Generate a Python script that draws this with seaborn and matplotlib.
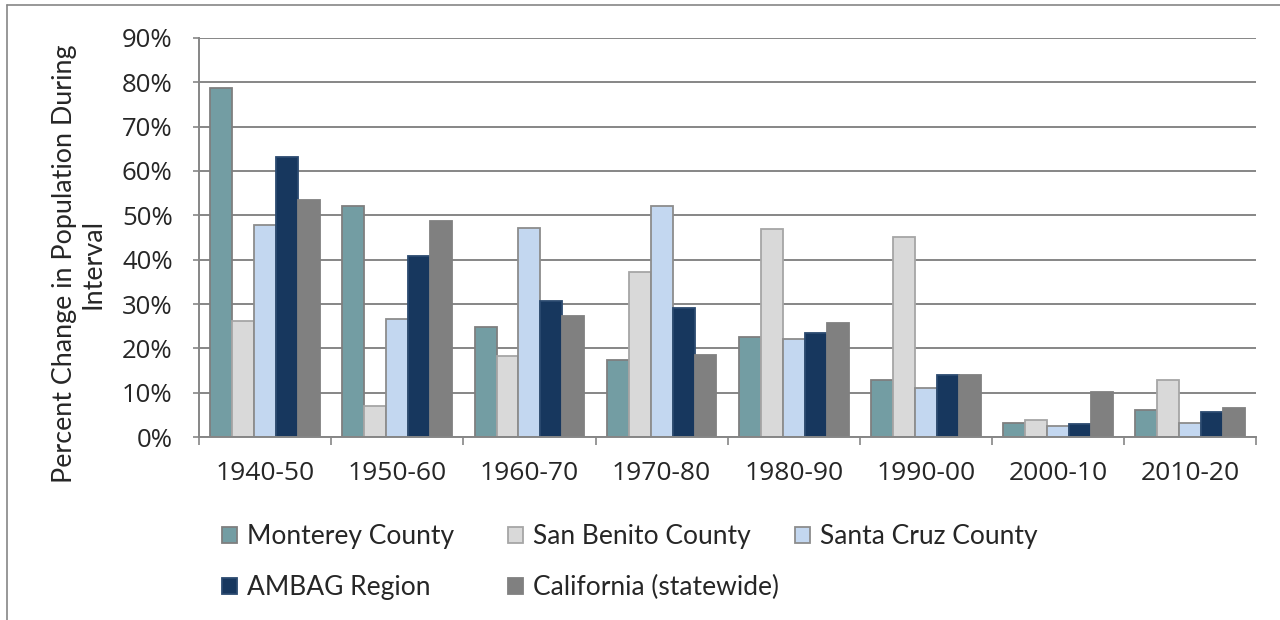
import numpy as np
import pandas as pd
import matplotlib
matplotlib.use("Agg")
import matplotlib.pyplot as plt
from matplotlib.lines import Line2D
from matplotlib.ticker import FuncFormatter, FixedLocator
import seaborn as sns

# chart data (percent change in population during interval)
intervals = ["1940-50", "1950-60", "1960-70", "1970-80", "1980-90", "1990-00", "2000-10", "2010-20"]
monterey = [78.8, 52.1, 24.8, 17.4, 22.5, 12.9, 3.2, 6.2]
san_benito = [26.2, 7.1, 18.3, 37.2, 46.9, 45.1, 3.8, 12.8]
santa_cruz = [47.8, 26.6, 47.1, 52.0, 22.0, 11.1, 2.5, 3.2]
ambag = [63.2, 40.9, 30.6, 29.2, 23.5, 14.1, 2.9, 5.7]
california = [53.5, 48.6, 27.2, 18.6, 25.8, 13.9, 10.1, 6.6]

series = ["Monterey County", "San Benito County", "Santa Cruz County", "AMBAG Region", "California (statewide)"]
values = [monterey, san_benito, santa_cruz, ambag, california]
fills = ["#739DA3", "#D9D9D9", "#C3D7F0", "#17375E", "#808080"]
edges = ["#7F7F7F", "#A6A6A6", "#8C8C8C", "#2B4A70", "#808080"]

df = pd.DataFrame({
    "Interval": np.repeat([intervals], len(series), axis=0).ravel(),
    "Series": np.repeat(series, len(intervals)),
    "Value": np.concatenate(values),
})

sns.set_style("white")
plt.rcParams["font.family"] = ["Lato", "DejaVu Sans"]

fig = plt.figure(figsize=(12.8, 6.2), dpi=100)
ax = fig.add_axes([0.1555, 0.295, 0.826, 0.644])

sns.barplot(data=df, x="Interval", y="Value", hue="Series", hue_order=series,
            palette=fills, width=0.83, gap=0, saturation=1, legend=False, ax=ax)

for cont, ec in zip(ax.containers, edges):
    for bar in cont:
        bar.set_edgecolor(ec)
        bar.set_linewidth(1.3)

ax.set_ylim(0, 90)
ax.set_xlim(-0.5, len(intervals) - 0.5)
ax.yaxis.set_major_locator(FixedLocator(np.arange(0, 91, 10)))
ax.yaxis.set_major_formatter(FuncFormatter(lambda v, p: f"{v:.0f}%"))
ax.grid(axis="y", color="#868686", linewidth=1.4)
ax.set_axisbelow(True)

for side in ["top", "right"]:
    ax.spines[side].set_visible(False)
for side in ["left", "bottom"]:
    ax.spines[side].set_color("#868686")
    ax.spines[side].set_linewidth(1.4)

ax.tick_params(axis="y", which="major", direction="out", length=4, width=1.2,
               color="#868686", pad=15, left=True)
ax.tick_params(axis="x", which="major", length=0, pad=17)
for lbl in ax.get_yticklabels():
    lbl.set_fontfamily(["Open Sans", "DejaVu Sans"])
    lbl.set_fontsize(18.5)
for lbl in ax.get_xticklabels():
    lbl.set_fontfamily(["Open Sans", "DejaVu Sans"])
    lbl.set_fontsize(19)
ax.set_xticks(np.arange(-0.5, len(intervals), 1), minor=True)
ax.tick_params(axis="x", which="minor", direction="out", length=6, width=1.2,
               color="#868686", bottom=True)

ax.set_xlabel("")
ax.set_ylabel("Percent Change in Population During\nInterval", fontsize=19.4,
              linespacing=1.18)
ax.yaxis.set_label_coords(-0.088, 0.434)

# legend laid out in fixed-width columns, filled row by row
handles = [plt.Rectangle((0, 0), 1, 1, facecolor=f, edgecolor=e, linewidth=1.3)
           for f, e in zip(fills, edges)]
col_x = [222, 508, 795]
for c, xpx in enumerate(col_x):
    idx = [i for i in range(len(series)) if i % 3 == c]
    leg = fig.legend([handles[i] for i in idx], [series[i] for i in idx],
                     loc="upper left", bbox_to_anchor=(xpx / 1280, 1 - 524 / 620),
                     bbox_transform=fig.transFigure, frameon=False, fontsize=19,
                     borderpad=0, borderaxespad=0,
                     handlelength=0.55, handleheight=0.55, handletextpad=0.4,
                     labelspacing=1.0)

# outer chart frame (left and top edges)
fig.add_artist(Line2D([7 / 1280, 7 / 1280], [0, 1 - 5 / 620], transform=fig.transFigure,
                      color="#868686", linewidth=1.2))
fig.add_artist(Line2D([7 / 1280, 1], [1 - 5 / 620, 1 - 5 / 620], transform=fig.transFigure,
                      color="#868686", linewidth=1.2))

fig.savefig("out.png", dpi=100)
